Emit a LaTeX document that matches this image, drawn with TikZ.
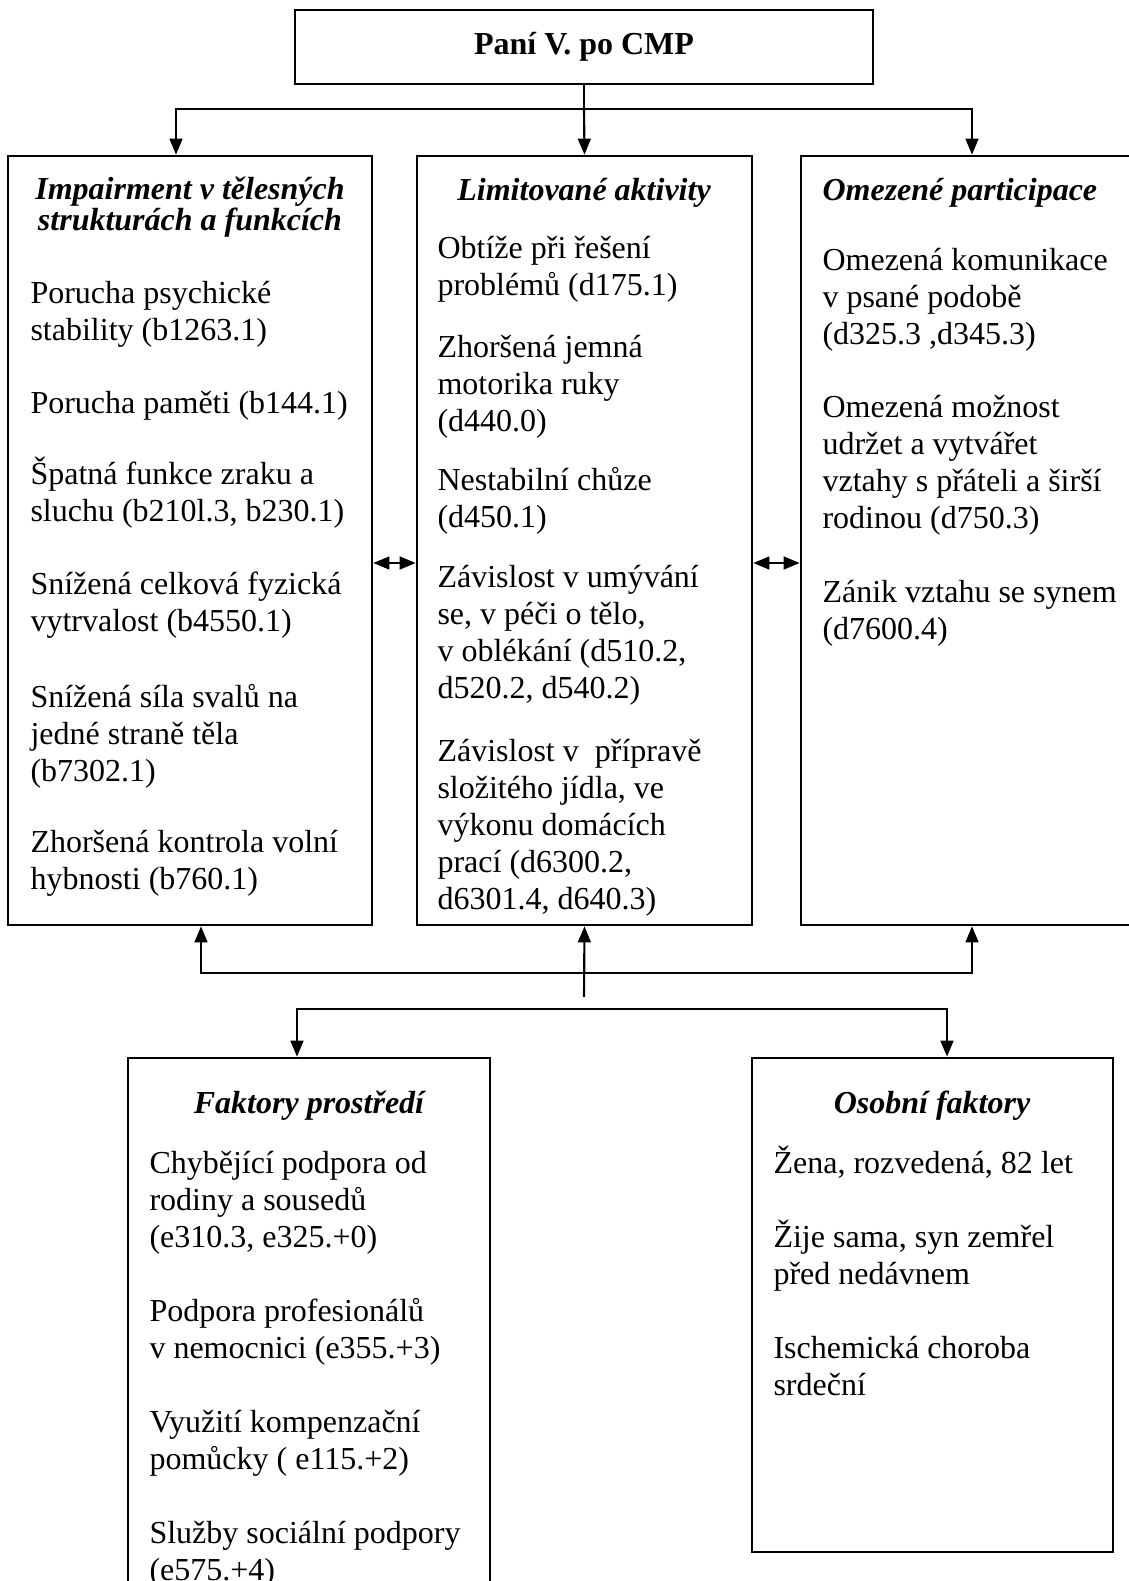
\documentclass[tikz,border=0pt]{standalone}
\usepackage{fontspec}
\setmainfont{Liberation Serif}
\usepackage{tikz}
\usetikzlibrary{fit,arrows.meta}
\tikzset{
  panel/.style={draw, line width=1pt, inner sep=0pt},
  wire/.style={line width=0.8pt},
  arr/.style={wire, -{Triangle[length=6pt,width=4.8pt]}},
  dbl/.style={wire, {Triangle[length=6pt,width=4.8pt]}-{Triangle[length=6pt,width=4.8pt]}},
  % base anchor of a multi-line node sits on its last line
  para/.style={anchor=base west, align=left, inner sep=0pt, font=\fontsize{12}{13.8}\selectfont},
  head/.style={anchor=base, align=center, inner sep=0pt, font=\fontsize{12}{11.4}\selectfont\bfseries\itshape}
}

\begin{document}
\begin{tikzpicture}[x=0.375pt, y=-0.375pt]
  \useasboundingbox (0,0) rectangle (1128,1581);

  % boxes
  \node[panel, minimum width=216.75pt, minimum height=27.75pt, font=\fontsize{12}{14}\selectfont\bfseries] (top) at (584,47) {Paní V. po CMP};
  \node[panel, fit={(8,156) (372,925)}] (imp) {};
  \node[panel, fit={(417,156) (752,925)}] (lim) {};
  \node[panel, fit={(801,156) (1150,925)}] (par) {};
  \node[panel, fit={(128,1058) (490,1610)}] (env) {};
  \node[panel, fit={(752,1058) (1113,1552)}] (pers) {};

  % Impairment
  \node[head] (imph) at (190,230) {Impairment v tělesných\\strukturách a funkcích};
  \node[para] (imp1) at (30,340) {Porucha psychické\\stability (b1263.1)};
  \node[para] (imp2) at (30,413) {Porucha paměti (b144.1)};
  \node[para] (imp3) at (30,521) {Špatná funkce zraku a\\sluchu (b210l.3, b230.1)};
  \node[para] (imp4) at (30,631) {Snížená celková fyzická\\vytrvalost (b4550.1)};
  \node[para] (imp5) at (30,781) {Snížená síla svalů na\\jedné straně těla\\(b7302.1)};
  \node[para] (imp6) at (30,889) {Zhoršená kontrola volní\\hybnosti (b760.1)};

  % Limitovane aktivity
  \node[head] (limh) at (584,200) {Limitované aktivity};
  \node[para] (lim1) at (437,295) {Obtíže při řešení\\problémů (d175.1)};
  \node[para] (lim2) at (437,431) {Zhoršená jemná\\motorika ruky\\(d440.0)};
  \node[para] (lim3) at (437,527) {Nestabilní chůze\\(d450.1)};
  \node[para] (lim4) at (437,698) {Závislost v umývání\\se, v péči o tělo,\\v oblékání (d510.2,\\d520.2, d540.2)};
  \node[para] (lim5) at (437,909) {Závislost v\ \ přípravě\\složitého jídla, ve\\výkonu domácích\\prací (d6300.2,\\d6301.4, d640.3)};

  % Participace
  \node[head, anchor=base west] (parh) at (822,200) {Omezené participace};
  \node[para] (par1) at (822,344) {Omezená komunikace\\v psané podobě\\(d325.3 ,d345.3)};
  \node[para] (par2) at (822,528) {Omezená možnost\\udržet a vytvářet\\vztahy s přáteli a širší\\rodinou (d750.3)};
  \node[para] (par3) at (822,639) {Zánik vztahu se synem\\(d7600.4)};

  % Faktory prostredi
  \node[head] (envh) at (309,1113) {Faktory prostředí};
  \node[para] (env1) at (149,1247) {Chybějící podpora od\\rodiny a sousedů\\(e310.3, e325.+0)};
  \node[para] (env2) at (149,1358) {Podpora profesionálů\\v nemocnici (e355.+3)};
  \node[para] (env3) at (149,1469) {Využití kompenzační\\pomůcky ( e115.+2)};
  \node[para] (env4) at (149,1580) {Služby sociální podpory\\(e575.+4)};

  % Osobni faktory
  \node[head] (persh) at (932,1113) {Osobní faktory};
  \node[para] (pers1) at (773,1173) {Žena, rozvedená, 82 let};
  \node[para] (pers2) at (773,1284) {Žije sama, syn zemřel\\před nedávnem};
  \node[para] (pers3) at (773,1395) {Ischemická choroba\\srdeční};

  % junctions
  \coordinate (hub) at (584,109);
  \coordinate (rail) at (584,973);
  \coordinate (stem) at (584,997);
  \coordinate (fork) at (584,1009);
  \coordinate (xa) at (176,0);
  \coordinate (xb) at (201,0);
  \coordinate (xc) at (972,0);
  \coordinate (xd) at (297,0);
  \coordinate (xe) at (947,0);
  \coordinate (lvl) at (0,563);

  \draw[wire] (top.south) -- (hub);
  \draw[arr] (hub) -| (imp.north -| xa);
  \draw[arr] (hub) -- (lim.north);
  \draw[arr] (hub) -| (par.north -| xc);

  \draw[dbl] (imp.east |- lvl) -- (lim.west |- lvl);
  \draw[dbl] (lim.east |- lvl) -- (par.west |- lvl);

  \draw[arr] (stem) -- (lim.south);
  \draw[arr] (rail) -| (imp.south -| xb);
  \draw[arr] (rail) -| (par.south -| xc);

  \draw[arr] (fork) -| (env.north -| xd);
  \draw[arr] (fork) -| (pers.north -| xe);
\end{tikzpicture}
\end{document}
